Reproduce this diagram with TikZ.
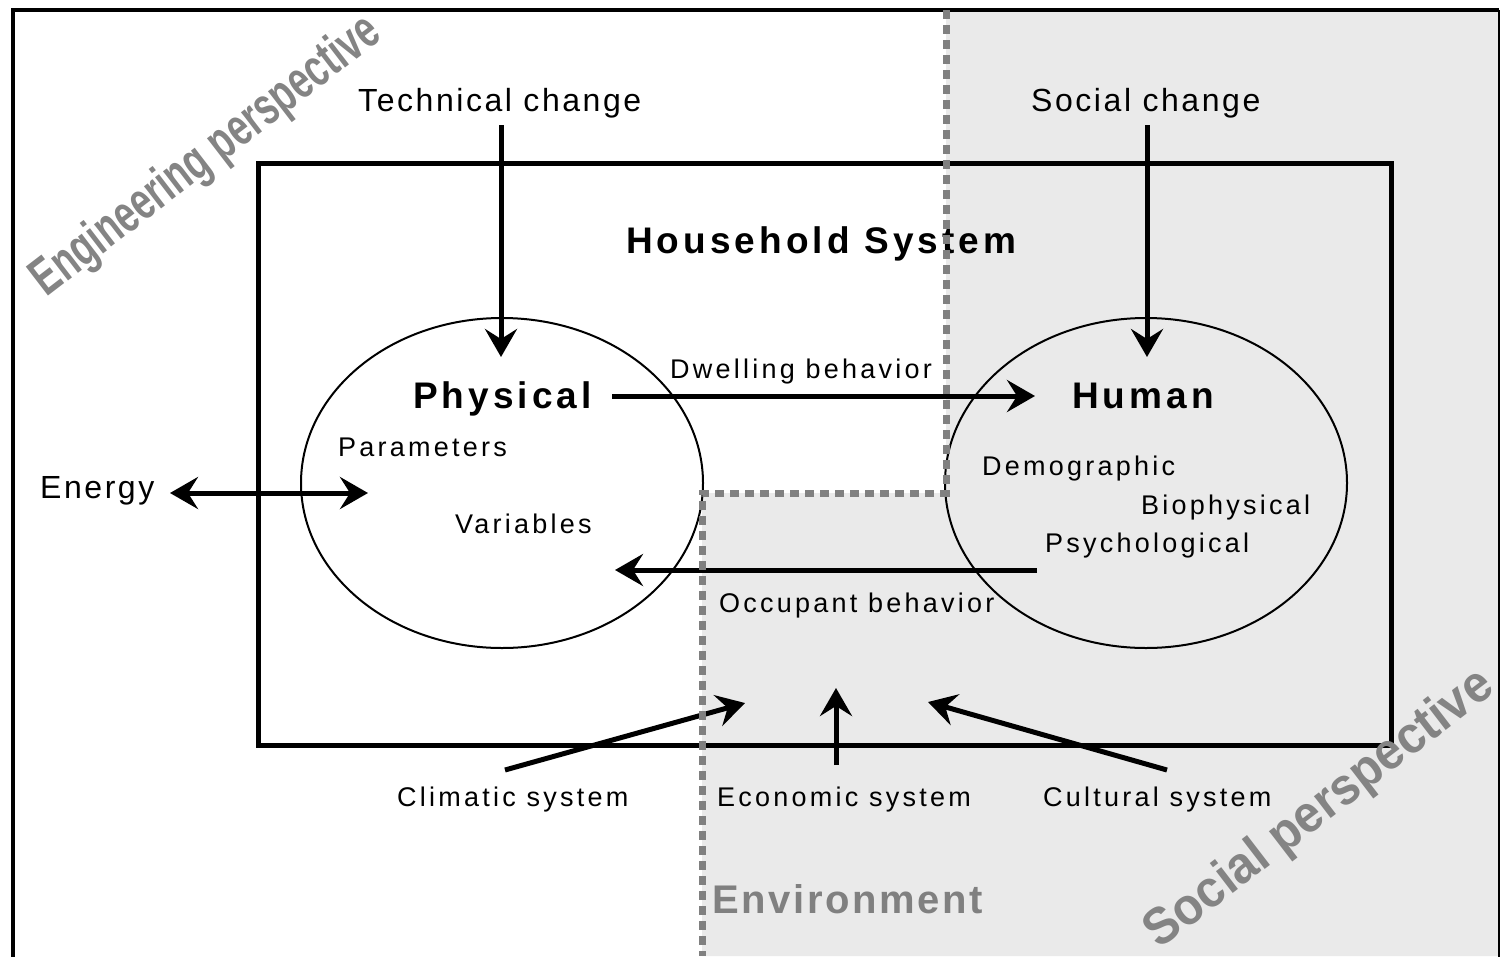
\documentclass[tikz,border=0pt]{standalone}
\usepackage{fontspec}
\setmainfont{Liberation Sans}
\newfontfamily\fbig[LetterSpace=8]{Liberation Sans}
\newfontfamily\fin[LetterSpace=12]{Liberation Sans}
\newfontfamily\fttl[LetterSpace=11]{Liberation Sans}
\newfontfamily\fenv[LetterSpace=6.5]{Liberation Sans}
\newfontfamily\fnarrow[FakeStretch=0.69]{Liberation Sans}
\newfontfamily\fsoc[FakeStretch=0.93]{Liberation Sans}
\usetikzlibrary{arrows.meta,shapes.geometric}
\definecolor{bggray}{RGB}{234,234,234}
\definecolor{dotgray}{RGB}{128,128,128}
\definecolor{pgray}{RGB}{132,132,132}
\begin{document}
\begin{tikzpicture}[x=1pt,y=-1pt,
  bigtxt/.style={anchor=base west, inner sep=0pt, font=\fbig\fontsize{32}{38}\selectfont},
  intxt/.style={anchor=base west, inner sep=0pt, font=\fin\fontsize{27}{32}\selectfont},
  ttltxt/.style={anchor=base west, inner sep=0pt, font=\fttl\bfseries\fontsize{37}{44}\selectfont},
  sysbox/.style={line width=5pt},
  blob/.style={draw, ellipse, line width=2pt, minimum width=402pt, minimum height=330pt, inner sep=0pt},
  arr/.style={line width=5pt, -{Stealth[length=28pt,width=32pt,inset=10pt]}},
  darr/.style={line width=5pt, {Stealth[length=28pt,width=32pt,inset=10pt]}-{Stealth[length=28pt,width=32pt,inset=10pt]}},
  border/.style={line width=7pt, dotgray, dash pattern=on 9pt off 6pt},
  persp/.style={inner sep=0pt, text=pgray}
]
\useasboundingbox (0,0) rectangle (1501,956);
\clip (0,0) rectangle (1501,956);
% social region
\fill[bggray] (946,10) -- (1499,10) -- (1499,956) -- (702,956) -- (702,493) -- (946,493) -- cycle;
% outer frame
\draw[line width=4pt] (13,970) -- (13,10) -- (1499,10);
\draw[line width=1.5pt] (1499,10) -- (1499,970);
% household system box
\draw[sysbox] (258,163) rectangle (1391,745);
\node[ttltxt] (hs) at (626,253) {Household System};
% ellipses
\node[blob] (phys) at (502,483) {};
\node[blob] (hum) at (1146,483) {};
\node[ttltxt] (physt) at (413,408) {Physical};
\node[ttltxt] (humt) at (1072,408) {Human};
\node[intxt] (par) at (338,456) {Parameters};
\node[intxt] (var) at (455,533) {Variables};
\node[intxt] (dem) at (982,475) {Demographic};
\node[intxt] (bio) at (1141,514) {Biophysical};
\node[intxt] (psy) at (1045,552) {Psychological};
% changes
\node[bigtxt] (tch) at (358,111) {Technical change};
\node[bigtxt] (sch) at (1031,111) {Social change};
\coordinate (tch0) at (501,125);
\coordinate (tch1) at (501,357);
\coordinate (sch0) at (1147,125);
\coordinate (sch1) at (1147,357);
\draw[arr] (tch0) -- (tch1);
\draw[arr] (sch0) -- (sch1);
% energy
\node[bigtxt] (en) at (40,498) {Energy};
\coordinate (en0) at (170,493);
\coordinate (en1) at (368,493);
\draw[darr] (en0) -- (en1);
% behaviours
\node[intxt] (dw) at (670,378) {Dwelling behavior};
\coordinate (dw0) at (612,396);
\coordinate (dw1) at (1035,396);
\draw[arr] (dw0) -- (dw1);
\node[intxt] (oc) at (719,612) {Occupant behavior};
\coordinate (oc0) at (1037,570);
\coordinate (oc1) at (615,570);
\draw[arr] (oc0) -- (oc1);
% systems
\node[intxt] (cli) at (397,806) {Climatic system};
\node[intxt] (eco) at (717,806) {Economic system};
\node[intxt] (cul) at (1043,806) {Cultural system};
\coordinate (cli0) at (505,770);
\coordinate (cli1) at (745,703);
\coordinate (eco0) at (836,765);
\coordinate (eco1) at (836,688);
\coordinate (cul0) at (1167,770);
\coordinate (cul1) at (928,702);
\draw[arr] (cli0) -- (cli1);
\draw[arr] (eco0) -- (eco1);
\draw[arr] (cul0) -- (cul1);
% boundary
\draw[border] (946,10) -- (946,493) -- (702,493) -- (702,956);
% environment
\node[anchor=base west, inner sep=0pt, text=dotgray, font=\fenv\bfseries\fontsize{40}{48}\selectfont] (env) at (712,913) {Environment};
% perspectives
\node[persp, rotate=37.5, font=\fnarrow\bfseries\fontsize{53}{63}\selectfont] (eng) at (207,157) {Engineering perspective};
\node[persp, rotate=37.5, font=\fsoc\bfseries\fontsize{52}{62}\selectfont] (soc) at (1320,810) {Social perspective};
\end{tikzpicture}
\end{document}
